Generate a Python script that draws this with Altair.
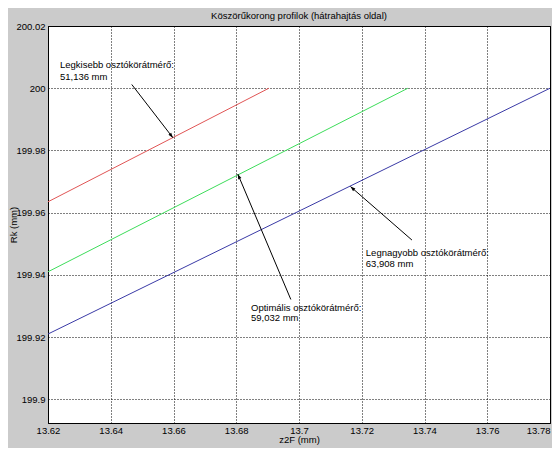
import math
import altair as alt
import pandas as pd

# ---- data ----
series = ["Legkisebb", "Optimális", "Legnagyobb"]
x_start = [13.62, 13.62, 13.62]
y_start = [199.9635, 199.941, 199.921]
x_end = [13.6904, 13.7347, 13.78]
y_end = [200.0, 200.0, 200.0]
line_colors = ["#e05555", "#3ddc5a", "#3a3aa6"]

x_ticks = [13.62, 13.64, 13.66, 13.68, 13.70, 13.72, 13.74, 13.76, 13.78]
y_ticks = [199.90, 199.92, 199.94, 199.96, 199.98, 200.00, 200.02]
x_domain = [13.62, 13.78]
y_domain = [199.8924, 200.02]

label_lines = [
    "Legkisebb osztókörátmérő:", "51,136 mm",
    "Optimális osztókörátmérő:", "59,032 mm",
    "Legnagyobb osztókörátmérő:", "63,908 mm",
]
label_x = [13.6238, 13.6238, 13.6847, 13.6847, 13.7213, 13.7213]
label_y = [200.0075, 200.0037, 199.9295, 199.9260, 199.9471, 199.9436]

arrow_tail_x = [13.6467, 13.6974, 13.7360]
arrow_tail_y = [200.0012, 199.9321, 199.9512]
arrow_head_x = [13.6598, 13.6805, 13.7164]
arrow_head_y = [199.9841, 199.9724, 199.9684]

title_text = "Köszörűkorong profilok (hátrahajtás oldal)"
x_title = "z2F (mm)"
y_title = "Rk (mm)"

W, H = 502, 397
FONT = "Liberation Sans"
FS = 9.5

# ---- tables ----
rows = []
for s, xs, ys, xe, ye in zip(series, x_start, y_start, x_end, y_end):
    rows.append({"s": s, "x": xs, "y": ys})
    rows.append({"s": s, "x": xe, "y": ye})
lines_df = pd.DataFrame(rows)

labels_df = pd.DataFrame({"t": label_lines, "x": label_x, "y": label_y})

px_x = W / (x_domain[1] - x_domain[0])
px_y = H / (y_domain[1] - y_domain[0])
angles = []
for xt, yt, xh, yh in zip(arrow_tail_x, arrow_tail_y, arrow_head_x, arrow_head_y):
    dx = (xh - xt) * px_x
    dy = -(yh - yt) * px_y
    angles.append(math.degrees(math.atan2(dx, -dy)) % 360)
arrows_df = pd.DataFrame({
    "x": arrow_tail_x, "y": arrow_tail_y,
    "x2": arrow_head_x, "y2": arrow_head_y, "a": angles,
})

xscale = alt.Scale(domain=x_domain, nice=False, zero=False)
yscale = alt.Scale(domain=y_domain, nice=False, zero=False)

axis_common = dict(
    grid=True, gridColor="black", gridDash=[1, 2], gridOpacity=1, gridWidth=1,
    domainColor="black", domainWidth=1, ticks=False,
    labelFont=FONT, labelFontSize=FS, labelColor="black",
    titleFont=FONT, titleFontSize=FS, titleColor="black", titleFontWeight="normal",
    format=".2~f",
)
xaxis = alt.Axis(
    values=x_ticks, title=x_title, labelPadding=2, titlePadding=0,
    labelFlush=False, labelOverlap=False,
    labelAlign={"condition": {"test": "datum.value >= 13.779", "value": "right"}, "value": "center"},
    **axis_common,
)
yaxis = alt.Axis(
    values=y_ticks, title=y_title, labelPadding=3,
    titleX=-35, titleY=H / 2, titleAngle=270, titleAlign="center", titleBaseline="middle",
    labelOverlap=False, **axis_common,
)

lines = alt.Chart(lines_df).mark_line(strokeWidth=1, clip=True).encode(
    x=alt.X("x:Q", scale=xscale, axis=xaxis),
    y=alt.Y("y:Q", scale=yscale, axis=yaxis),
    color=alt.Color("s:N", scale=alt.Scale(domain=series, range=line_colors), legend=None),
    detail="s:N",
)

rules = alt.Chart(arrows_df).mark_rule(color="black", strokeWidth=1).encode(
    x=alt.X("x:Q", scale=xscale), y=alt.Y("y:Q", scale=yscale),
    x2="x2:Q", y2="y2:Q",
)

heads = alt.Chart(arrows_df).mark_point(
    shape="M0,0L0.35,1L-0.35,1Z", filled=True, color="black", opacity=1, size=100,
).encode(
    x=alt.X("x2:Q", scale=xscale), y=alt.Y("y2:Q", scale=yscale),
    angle=alt.Angle("a:Q", scale=None),
)

texts = alt.Chart(labels_df).mark_text(
    align="left", baseline="middle", font=FONT, fontSize=FS, color="black",
).encode(
    x=alt.X("x:Q", scale=xscale), y=alt.Y("y:Q", scale=yscale), text="t:N",
)

chart = alt.layer(lines, rules, heads, texts).properties(
    width=W, height=H,
    title=alt.TitleParams(title_text, font=FONT, fontSize=FS, fontWeight="normal",
                          color="black", anchor="middle", offset=1),
    autosize=alt.AutoSizeParams(type="none"),
    padding={"left": 40, "top": 18, "right": 2, "bottom": 25},
).configure(background="#cbcbcb").configure_view(
    fill="white", stroke="black", strokeWidth=1,
)

chart.save("out.html", embed_options={"renderer": "svg", "actions": False})
